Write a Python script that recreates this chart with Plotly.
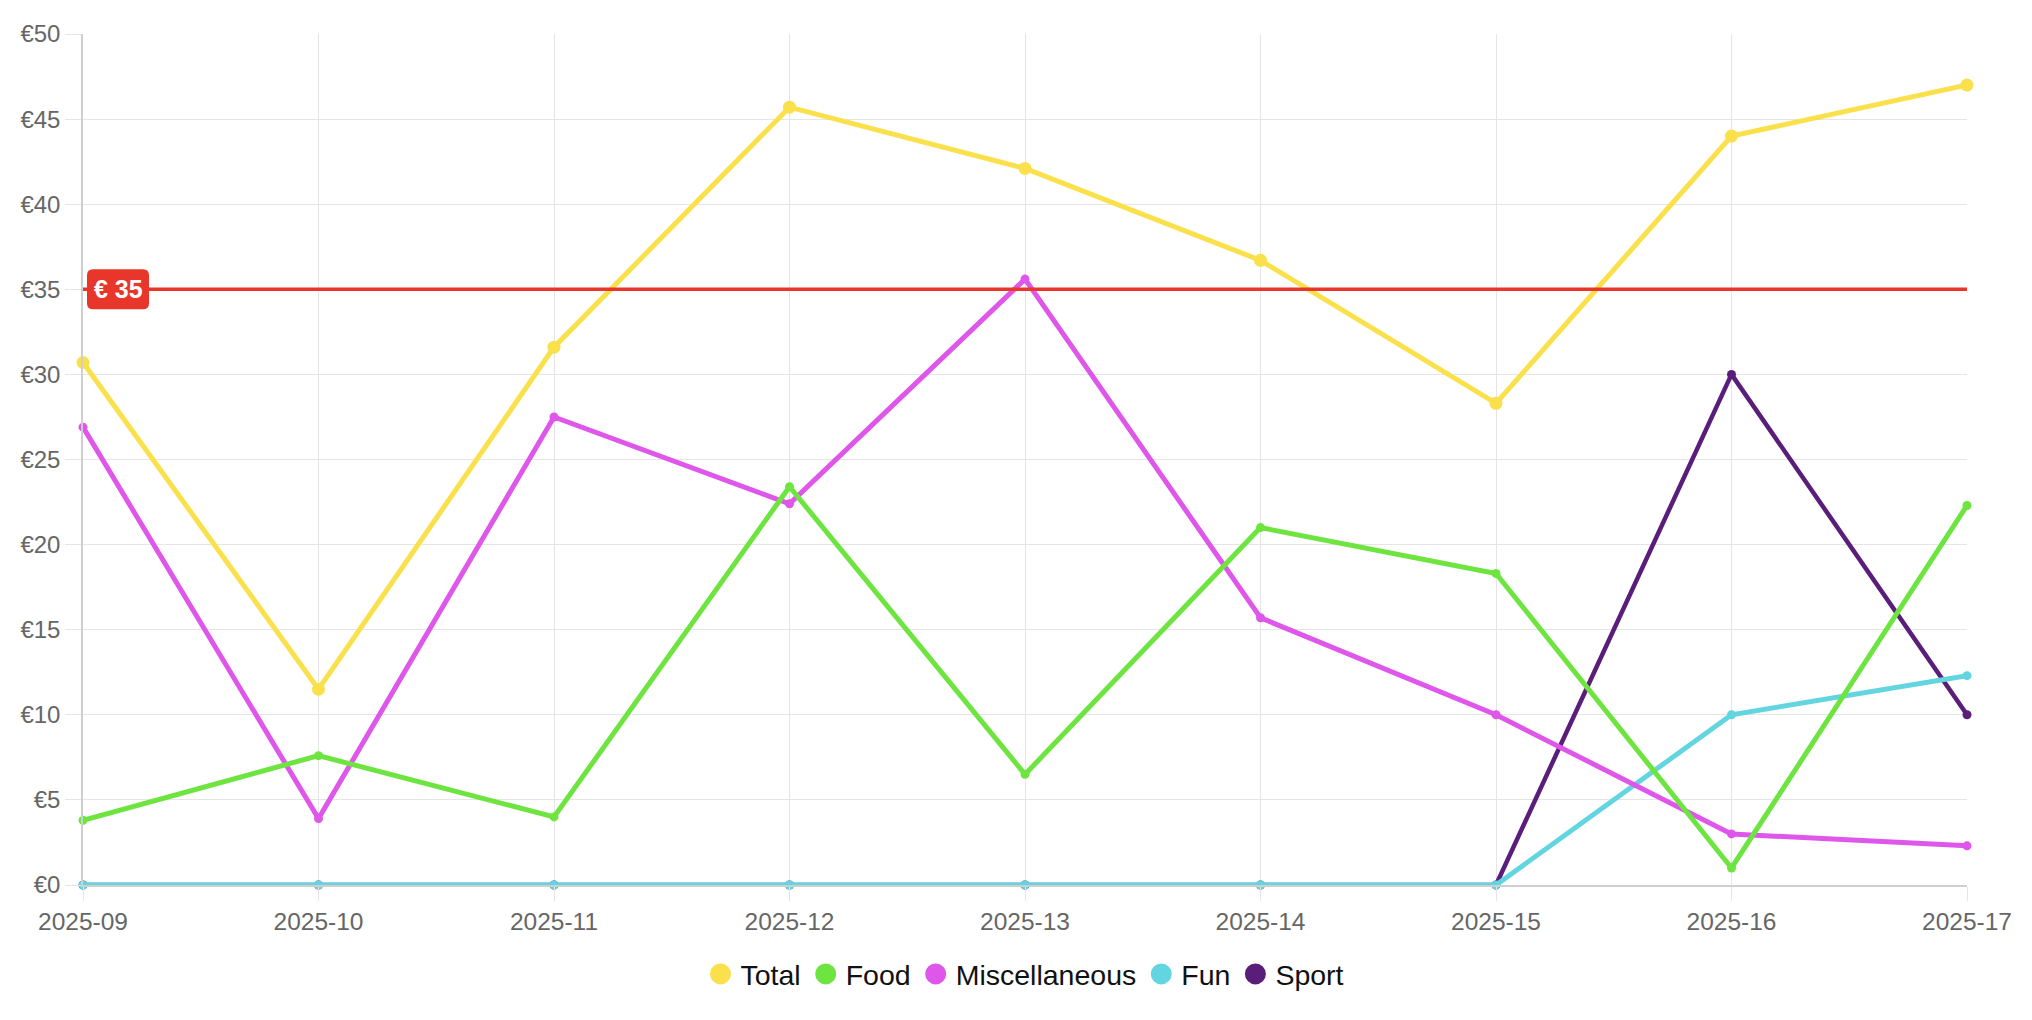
import plotly.graph_objects as go

weeks = ["2025-09", "2025-10", "2025-11", "2025-12", "2025-13",
         "2025-14", "2025-15", "2025-16", "2025-17"]

total = [30.7, 11.5, 31.6, 45.7, 42.1, 36.7, 28.3, 44.0, 47.0]
food = [3.8, 7.6, 4.0, 23.4, 6.5, 21.0, 18.3, 1.0, 22.3]
misc = [26.9, 3.9, 27.5, 22.4, 35.6, 15.7, 10.0, 3.0, 2.3]
fun = [0, 0, 0, 0, 0, 0, 0, 10.0, 12.3]
sport = [0, 0, 0, 0, 0, 0, 0, 30.0, 10.0]

threshold = 35
y_ticks = [0, 5, 10, 15, 20, 25, 30, 35, 40, 45, 50]
y_tick_labels = ["€%d" % v for v in y_ticks]

series = [
    ("Total", total, "#FAE04B", 13, 5),
    ("Food", food, "#6EE440", 9, 5),
    ("Miscellaneous", misc, "#DF56EA", 9, 5),
    ("Fun", fun, "#63D5E0", 9, 5),
    ("Sport", sport, "#5A1E7A", 9, 4.5),
]

FONT = "Liberation Sans, Arial, Helvetica, sans-serif"
RED = "#E8372A"

fig = go.Figure()

# draw in reverse so first dataset is on top (like Chart.js)
for name, vals, color, msize, lw in reversed(series):
    fig.add_trace(go.Scatter(
        x=weeks, y=vals, mode="lines+markers", name=name,
        line=dict(color=color, width=lw),
        marker=dict(color=color, size=msize),
        showlegend=False, cliponaxis=False,
        hovertemplate="%{x}: €%{y}<extra>" + name + "</extra>",
    ))

# legend-only entries (circles)
for i, (name, vals, color, msize, lw) in enumerate(series):
    fig.add_trace(go.Scatter(
        x=[None], y=[None], mode="markers", name=name,
        marker=dict(color=color, size=16, line=dict(color=color, width=5)),
        showlegend=True, legendrank=i + 1,
    ))

# threshold line
fig.add_shape(type="line", xref="paper", x0=0, x1=1, yref="y",
              y0=threshold, y1=threshold,
              line=dict(color=RED, width=3.5), layer="above")

# rounded badge behind the threshold label (pixel-sized, anchored at the value)
fig.add_shape(type="path", xref="x", yref="y",
              xsizemode="pixel", ysizemode="pixel",
              xanchor=weeks[0], yanchor=threshold,
              path="M 10,-20 L 60,-20 Q 66,-20 66,-14 L 66,14 Q 66,20 60,20 "
                   "L 10,20 Q 4,20 4,14 L 4,-14 Q 4,-20 10,-20 Z",
              fillcolor=RED, line=dict(width=0), layer="above")

fig.add_annotation(xref="x", x=weeks[0], xanchor="center", xshift=35,
                   yref="y", y=threshold, yanchor="middle",
                   text="<b>€ %d</b>" % threshold, showarrow=False,
                   font=dict(color="white", size=25, family=FONT))

grid = "#e5e5e5"
fig.update_layout(
    width=2016, height=1004,
    margin=dict(l=73, r=55, t=22, b=125),
    paper_bgcolor="white", plot_bgcolor="white",
    font=dict(family=FONT, color="#666666", size=24),
    showlegend=True,
    legend=dict(orientation="h", x=0.5, xanchor="center",
                y=-0.105, yanchor="middle",
                font=dict(size=28.5, color="#111111", family=FONT),
                itemwidth=30, traceorder="normal"),
    xaxis=dict(type="category", range=[0, len(weeks) - 1],
               showgrid=True, gridcolor=grid, gridwidth=1.3,
               showline=True, linecolor="#cfcfcf", linewidth=1.5,
               ticks="outside", ticklen=14, tickcolor=grid, tickwidth=1.3,
               tickfont=dict(size=24.5, color="#666666"),
               zeroline=False, fixedrange=True),
    yaxis=dict(range=[0, 50], tickmode="array", tickvals=y_ticks,
               ticktext=y_tick_labels,
               showgrid=True, gridcolor=grid, gridwidth=1.3,
               showline=True, linecolor="#cfcfcf", linewidth=1.5,
               ticks="outside", ticklen=16, tickcolor=grid, tickwidth=1.3,
               tickfont=dict(size=24, color="#666666"),
               zeroline=False, fixedrange=True),
)

fig.write_html("out.html")
